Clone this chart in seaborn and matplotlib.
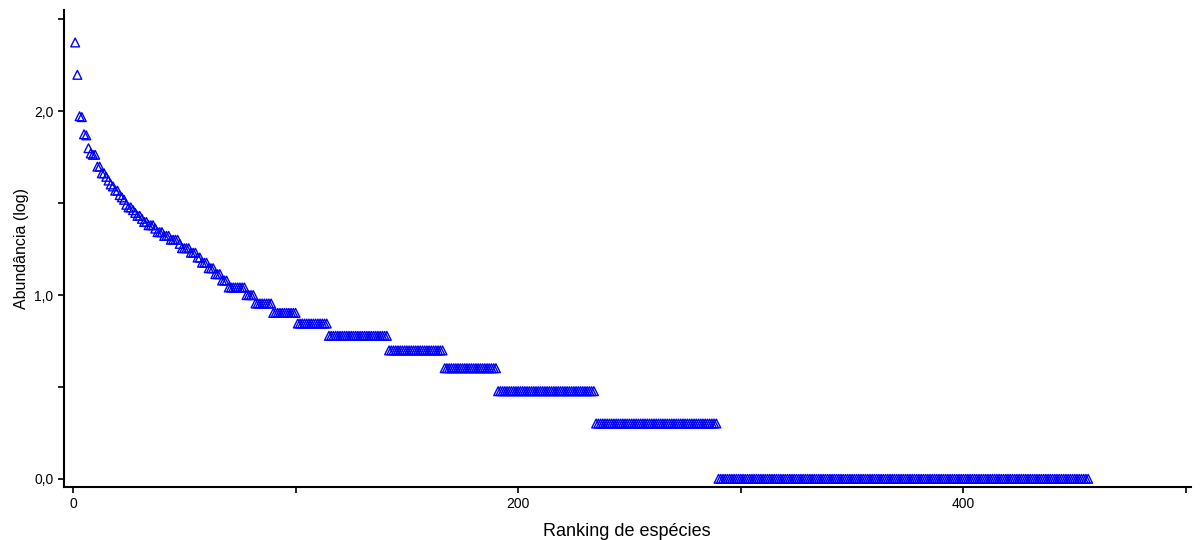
import matplotlib
matplotlib.use("Agg")
import matplotlib.pyplot as plt
import numpy as np
import pandas as pd
import seaborn as sns

# abundances of the most common species (ranks 1-69)
top_abund = [237, 158, 94, 93, 75, 74, 63, 59, 58, 58,
             50, 50, 46, 46, 44, 42, 40, 39, 37, 37,
             35, 34, 33, 31, 30, 30, 29, 28, 27, 27,
             26, 25, 25, 24, 24, 24, 23, 22, 22, 22,
             21, 21, 21, 20, 20, 20, 20, 19, 18, 18,
             18, 18, 17, 17, 17, 16, 16, 15, 15, 15,
             14, 14, 14, 13, 13, 13, 12, 12, 12]
# plateaus of the rarer species: abundance level and number of species
tail_levels = [11, 10, 9, 8, 7, 6, 5, 4, 3, 2, 1]
tail_counts = [8, 4, 8, 11, 14, 27, 25, 24, 44, 55, 167]

abund = np.concatenate([top_abund, np.repeat(tail_levels, tail_counts)])
df = pd.DataFrame({"rank": np.arange(1, len(abund) + 1),
                   "logab": np.log10(abund)})

sns.set_theme(style="white")
plt.rcParams["font.family"] = ["Liberation Sans", "DejaVu Sans"]

fig = plt.figure(figsize=(12.01, 5.4), dpi=100)
ax = fig.add_axes([0.0533, 0.098, 0.938, 0.883])

sns.scatterplot(data=df, x="rank", y="logab", marker="^", s=40,
                color="blue", facecolor="none", edgecolor="blue",
                linewidth=1.0, ax=ax)

ax.set_xlim(-4, 502)
ax.set_ylim(-0.045, 2.55)
ax.set_xticks([0, 100, 200, 300, 400, 500])
ax.set_xticklabels(["0", "", "200", "", "400", ""])
ax.set_yticks([0, 0.5, 1.0, 1.5, 2.0, 2.5])
ax.set_yticklabels(["0,0", "", "1,0", "", "2,0", ""])
ax.tick_params(axis="both", direction="out", length=4, width=1.2,
               labelsize=10, colors="black", bottom=True, left=True)
for side in ["top", "right"]:
    ax.spines[side].set_visible(False)
for side in ["left", "bottom"]:
    ax.spines[side].set_color("black")
    ax.spines[side].set_linewidth(1.5)

ax.set_xlabel("Ranking de espécies", fontsize=13, labelpad=8, color="black")
ax.set_ylabel("Abundância (log)", fontsize=11.5, labelpad=4, color="black")

plt.savefig("out.png", dpi=100)
